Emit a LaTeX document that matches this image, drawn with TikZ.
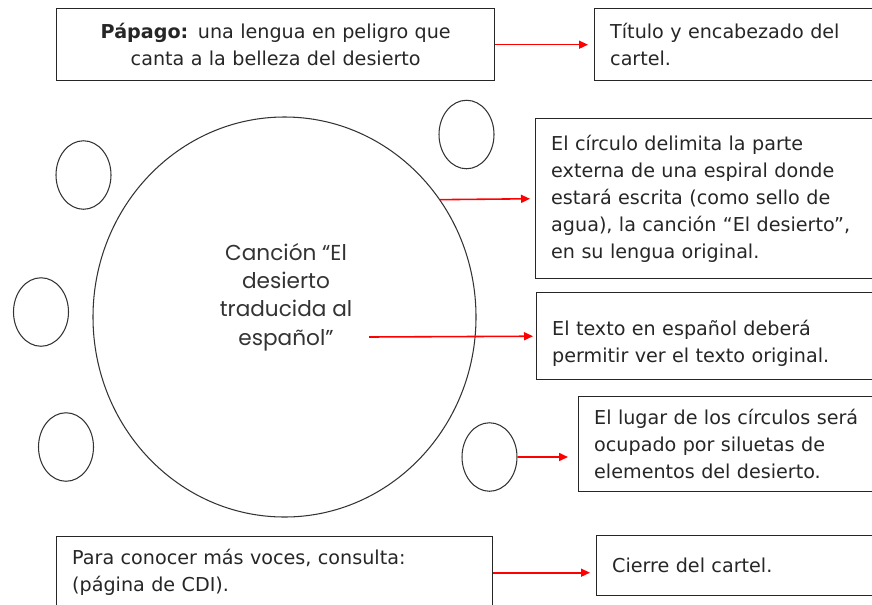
\documentclass[tikz,border=0pt]{standalone}
\usepackage{fontspec}
\setmainfont{DejaVu Sans}
\newfontfamily\gothicfont{Poppins}
\usetikzlibrary{arrows.meta,shapes.geometric}

\begin{document}
\begin{tikzpicture}[x=0.2mm, y=-0.2mm,
		caja/.style={draw=black!85, line width=0.8pt, anchor=north west, align=left,
			inner xsep=3.1mm, inner ysep=0pt, text width=64mm, text=black!85,
			font=\fontsize{10.9}{15.3}\selectfont},
		ovalo/.style={draw=black!80, line width=0.6pt, ellipse, inner sep=0pt,
			minimum width=11mm, minimum height=13.7mm},
		flecha/.style={draw=red, line width=0.9pt, -{Triangle[length=1.8mm,width=1.6mm]}}]
		%%%%% START %%%%%
		\useasboundingbox (0,0) rectangle (872,604);
		\clip (0,0) rectangle (872,604);
		
		% cajas de texto
		\node[caja, align=center, inner xsep=0pt, text width=87.6mm, minimum height=14.4mm] (titulo) at (56,8)
			{\textbf{Pápago:} una lengua en peligro que\\canta a la belleza del desierto};
		\node[caja, minimum height=14.4mm] (encabezado) at (594,8)
			{Título y encabezado del\\cartel.};
		\node[caja, minimum height=32mm] (espiral) at (535,118)
			{El círculo delimita la parte\\externa de una espiral donde\\estará escrita (como sello de\\agua), la canción “El desierto”,\\en su lengua original.};
		\node[caja, minimum height=17.4mm, text depth=9pt] (espanol) at (536,292)
			{El texto en español deberá\\permitir ver el texto original.};
		\node[caja, minimum height=19mm] (siluetas) at (578,396)
			{El lugar de los círculos será\\ocupado por siluetas de\\elementos del desierto.};
		\node[caja, text width=81mm, minimum height=14.4mm] (consulta) at (56,536)
			{Para conocer más voces, consulta:\\(página de CDI).};
		\node[caja, minimum height=12mm] (cierre) at (596,535)
			{Cierre del cartel.};
		
		% circulos
		\node[ovalo, minimum width=76.6mm, minimum height=80mm] (cancion) at (284.5,317) {};
		\node[font=\gothicfont\fontsize{12.3}{16.2}\selectfont, text=black!80, align=center] (letra) at (286,297)
			{Canción “El\\desierto\\traducida al\\español”};
		\node[ovalo] (sil1) at (83.5,175) {};
		\node[ovalo] (sil2) at (466.5,134.5) {};
		\node[ovalo] (sil3) at (41,312) {};
		\node[ovalo] (sil4) at (66,447) {};
		\node[ovalo] (sil5) at (489.5,457) {};
		
		% flechas
		\coordinate (origen) at (369,337);
		\draw[flecha, shorten >=1.2mm] (titulo.east) -- (encabezado.west);
		\draw[flecha, shorten >=1mm] (cancion.37.5) -- (espiral.west);
		\draw[flecha, shorten >=0.6mm] (origen) -- (espanol.west);
		\draw[flecha, shorten >=2mm] (sil5.east) -- (siluetas.west |- sil5.east);
		\draw[flecha, shorten >=1.2mm] (consulta.east) -- (cierre.west |- consulta.east);
		%%%%% END %%%%%
\end{tikzpicture}
\end{document}
